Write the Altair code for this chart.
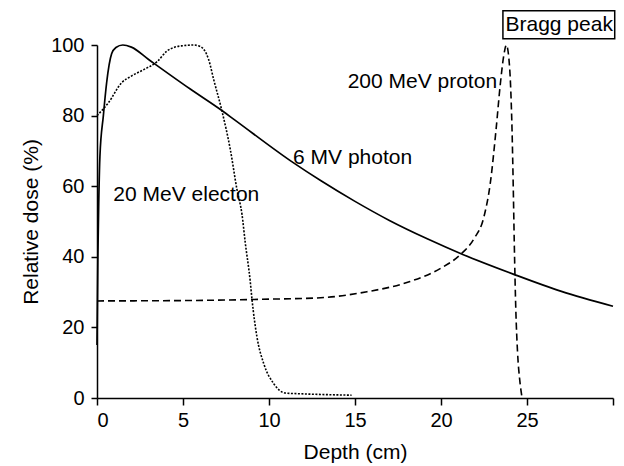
import altair as alt
import pandas as pd

# 6 MV photon (solid)
photon_x = [0, 0.05, 0.1, 0.17, 0.37, 0.56, 0.85, 1.1, 1.5, 2.0, 3.0, 5.4, 7.3, 8.0,
            11.43, 13, 15, 17, 19.2, 21.3, 24.2, 27, 30]
photon_y = [15, 40, 55, 68.5, 80, 89.3, 97.5, 99.3, 100, 99.4, 95.9, 87.6, 81.3, 78.8,
            66.6, 61.6, 55.7, 50.3, 45.1, 40.6, 35.1, 30.2, 26]

# 20 MeV electron (dotted)
electron_x = [0, 0.66, 1.43, 2.0, 2.7, 3.5, 4.07, 4.6, 5.0, 5.6, 6.0, 6.2, 6.49, 6.78,
              7.27, 7.75, 8.14, 8.43, 8.62, 8.91, 9.01, 9.3, 9.69, 10.27, 10.95, 11.8, 13, 14.8]
electron_y = [80, 83.6, 89.3, 91.2, 93, 95.3, 98.3, 99.5, 99.8, 100, 99.6, 98.8, 95.9, 90.3,
              81.2, 70.4, 59, 52, 44, 33, 28, 17.3, 9.8, 4.1, 1.4, 1.2, 1.0, 0.8]

# 200 MeV proton (dashed)
proton_x = [0, 5, 10, 13, 15.7, 18.2, 20, 21.1, 21.9, 22.5, 22.87, 23.2, 23.45, 23.65, 23.8,
            23.95, 24.05, 24.13, 24.2, 24.26, 24.35, 24.45, 24.58, 24.7]
proton_y = [27.5, 27.6, 28, 28.4, 30.1, 33, 36.8, 40.5, 45, 51.4, 61, 76, 89, 97, 100,
            96, 88, 76, 60, 44, 25, 13, 5, 0.5]

labels_text = ["20 MeV electon", "6 MV photon"]
labels_x = [0.95, 11.4]
labels_y = [57.6, 68.1]

proton_label = "200 MeV proton"
proton_label_x = 23.26
proton_label_y = 89.4

bragg_label = "Bragg peak"
bragg_x, bragg_x2 = 23.6, 30.1
bragg_y, bragg_y2 = 101.8, 109.7

FONT = "Liberation Sans"

photon = pd.DataFrame({"x": photon_x, "y": photon_y})
electron = pd.DataFrame({"x": electron_x, "y": electron_y})
proton = pd.DataFrame({"x": proton_x, "y": proton_y})

xscale = alt.Scale(domain=[0, 30], nice=False, zero=False)
yscale = alt.Scale(domain=[0, 100], nice=False)

xaxis = alt.Axis(title="Depth (cm)", values=[0, 5, 10, 15, 20, 25, 30],
                 labelExpr="datum.value == 30 ? '' : datum.label",
                 grid=False, tickSize=7, labelPadding=5, titlePadding=11)
yaxis = alt.Axis(title="Relative dose (%)", values=[0, 20, 40, 60, 80, 100],
                 grid=False, tickSize=6, labelPadding=7, titlePadding=9)

X = alt.X("x:Q", scale=xscale, axis=xaxis)
Y = alt.Y("y:Q", scale=yscale, axis=yaxis)

photon_line = alt.Chart(photon).mark_line(
    color="black", strokeWidth=1.7, interpolate="monotone", clip=False
).encode(x=X, y=Y)

electron_line = alt.Chart(electron).mark_line(
    color="black", strokeWidth=1.6, strokeDash=[2, 1.5], interpolate="monotone"
).encode(x=alt.X("x:Q", scale=xscale), y=alt.Y("y:Q", scale=yscale))

proton_line = alt.Chart(proton).mark_line(
    color="black", strokeWidth=1.6, strokeDash=[7, 4], interpolate="monotone"
).encode(x=alt.X("x:Q", scale=xscale), y=alt.Y("y:Q", scale=yscale))

lab_df = pd.DataFrame({"x": labels_x, "y": labels_y, "t": labels_text})
labels = alt.Chart(lab_df).mark_text(
    font=FONT, fontSize=21, align="left", baseline="middle", color="black"
).encode(x=alt.X("x:Q", scale=xscale), y=alt.Y("y:Q", scale=yscale), text="t:N")

plab = alt.Chart(pd.DataFrame({"x": [proton_label_x], "y": [proton_label_y], "t": [proton_label]})).mark_text(
    font=FONT, fontSize=21, align="right", baseline="middle", color="black"
).encode(x=alt.X("x:Q", scale=xscale), y=alt.Y("y:Q", scale=yscale), text="t:N")

bdf = pd.DataFrame({"x": [bragg_x], "x2": [bragg_x2], "y": [bragg_y], "y2": [bragg_y2],
                    "tx": [bragg_x + 0.15], "ty": [(bragg_y + bragg_y2) / 2], "t": [bragg_label]})
bbox = alt.Chart(bdf).mark_rect(
    fill="white", stroke="black", strokeWidth=1.5, clip=False
).encode(x=alt.X("x:Q", scale=xscale), x2="x2:Q", y=alt.Y("y:Q", scale=yscale), y2="y2:Q")
btext = alt.Chart(bdf).mark_text(
    font=FONT, fontSize=21, align="left", baseline="middle", color="black"
).encode(x=alt.X("tx:Q", scale=xscale), y=alt.Y("ty:Q", scale=yscale), text="t:N")

chart = alt.layer(photon_line, electron_line, proton_line, labels, plab, bbox, btext).properties(
    width=516, height=353,
    autosize=alt.AutoSizeParams(type="none"),
    padding={"left": 97, "top": 45, "right": 11, "bottom": 68},
    background="white",
).configure_view(stroke=None).configure_axis(
    domainColor="black", domainWidth=1.5, tickColor="black", tickWidth=1.5,
    labelColor="black", titleColor="black",
    labelFont=FONT, titleFont=FONT, labelFontSize=20, titleFontSize=21,
    titleFontWeight="normal",
)

chart.save("out.html", embed_options={"renderer": "svg", "actions": False})
